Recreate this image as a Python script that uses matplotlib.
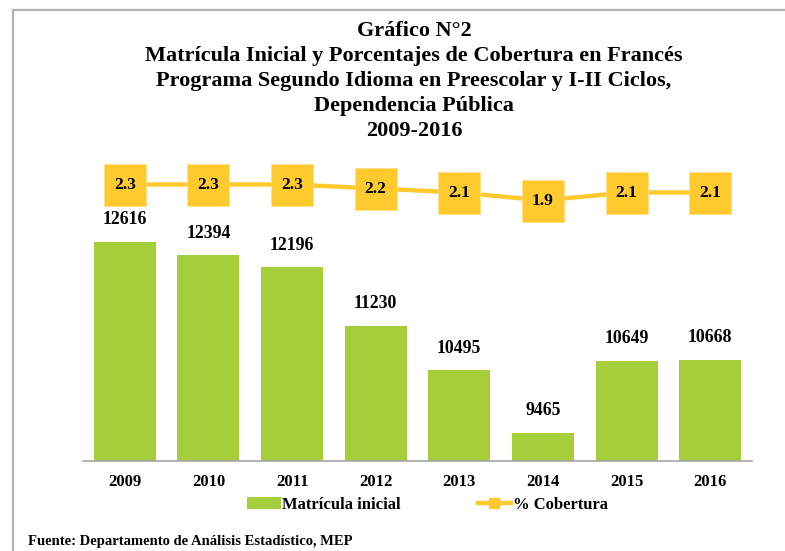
import matplotlib
matplotlib.use("Agg")
import matplotlib.pyplot as plt
from matplotlib.lines import Line2D
from matplotlib.patches import Patch

years = ["2009", "2010", "2011", "2012", "2013", "2014", "2015", "2016"]
matricula = [12616, 12394, 12196, 11230, 10495, 9465, 10649, 10668]
cobertura = [2.3, 2.3, 2.3, 2.2, 2.1, 1.9, 2.1, 2.1]

title_lines = ["Gráfico N°2",
               "Matrícula Inicial y Porcentajes de Cobertura en Francés",
               "Programa Segundo Idioma en Preescolar y I-II Ciclos,",
               "Dependencia Pública",
               "2009-2016"]
legend_labels = ["Matrícula inicial", "% Cobertura"]
source_text = "Fuente: Departamento de Análisis Estadístico, MEP"

GREEN = "#A6CD3A"
GOLD = "#FFCA2E"
SERIF = ["Liberation Serif", "DejaVu Serif"]

W, H = 785, 551
fig = plt.figure(figsize=(W / 100, H / 100), dpi=100)
fig.patch.set_facecolor("white")

# axes area in pixels
left_px, right_px, top_px, bottom_px = 83, 752, 150, 461
ax = fig.add_axes([left_px / W, 1 - bottom_px / H,
                   (right_px - left_px) / W, (bottom_px - top_px) / H])
x = list(range(len(years)))
bars = ax.bar(x, matricula, width=0.74, color=GREEN, zorder=2)
px_per_unit = 0.0606
ax.set_ylim(9000, 9000 + (bottom_px - top_px) / px_per_unit)
ax.set_xlim(-0.5, len(years) - 0.5)
for s in ["top", "right", "left"]:
    ax.spines[s].set_visible(False)
ax.spines["bottom"].set_color("#a6a6a6")
ax.spines["bottom"].set_linewidth(1.2)
ax.set_yticks([])
ax.set_xticks(x)
ax.set_xticklabels(years, fontfamily=SERIF, fontweight="bold", fontsize=12)
ax.tick_params(axis="x", length=0, pad=9)

for xi, v in zip(x, matricula):
    ax.annotate(f"{v}", (xi, v), xytext=(0, 16), textcoords="offset points",
                ha="center", va="center", fontfamily=SERIF,
                fontweight="bold", fontsize=12.8)

ax2 = ax.twinx()
# 40 px per unit, 2.3 at y=184.5 px
lo = 2.3 - (bottom_px - 184.5) / 40
hi = 2.3 + (184.5 - top_px) / 40
ax2.set_ylim(lo, hi)
ax2.plot(x, cobertura, color=GOLD, lw=3.2, marker="s", markersize=30,
         markerfacecolor=GOLD, markeredgecolor="#FFE08A", markeredgewidth=0.6,
         zorder=3)
for xi, v in zip(x, cobertura):
    ax2.text(xi, v, f"{v:.1f}", ha="center", va="center", fontfamily=SERIF,
             fontweight="bold", fontsize=12.5, zorder=4)
ax2.set_axis_off()

# title
for i, t in enumerate(title_lines):
    fig.text(414 / W, 1 - (31 + 25 * i) / H, t, ha="center", va="center",
             fontfamily=SERIF, fontweight="bold", fontsize=16)

# legend
handles = [Patch(facecolor=GREEN, edgecolor="none"),
           Line2D([0], [0], color=GOLD, lw=3.2, marker="s", markersize=7,
                  markerfacecolor=GOLD, markeredgecolor=GOLD)]
fig.legend(handles, legend_labels, loc="center", bbox_to_anchor=(427.5 / W, 1 - 505 / H),
           ncol=2, frameon=False, handlelength=2.0, handletextpad=0.1,
           columnspacing=4.6, prop={"family": SERIF, "weight": "bold", "size": 12})

fig.text(28 / W, 1 - 541 / H, source_text, ha="left", va="center",
         fontfamily=SERIF, fontweight="bold", fontsize=10.5)

# partial frame
fig.add_artist(Line2D([13 / W, 1], [1 - 10 / H, 1 - 10 / H], color="#b3b3b3", lw=1.6,
                      transform=fig.transFigure))
fig.add_artist(Line2D([13 / W, 13 / W], [0, 1 - 10 / H], color="#b3b3b3", lw=1.6,
                      transform=fig.transFigure))

fig.savefig("out.png", dpi=100, facecolor="white")
